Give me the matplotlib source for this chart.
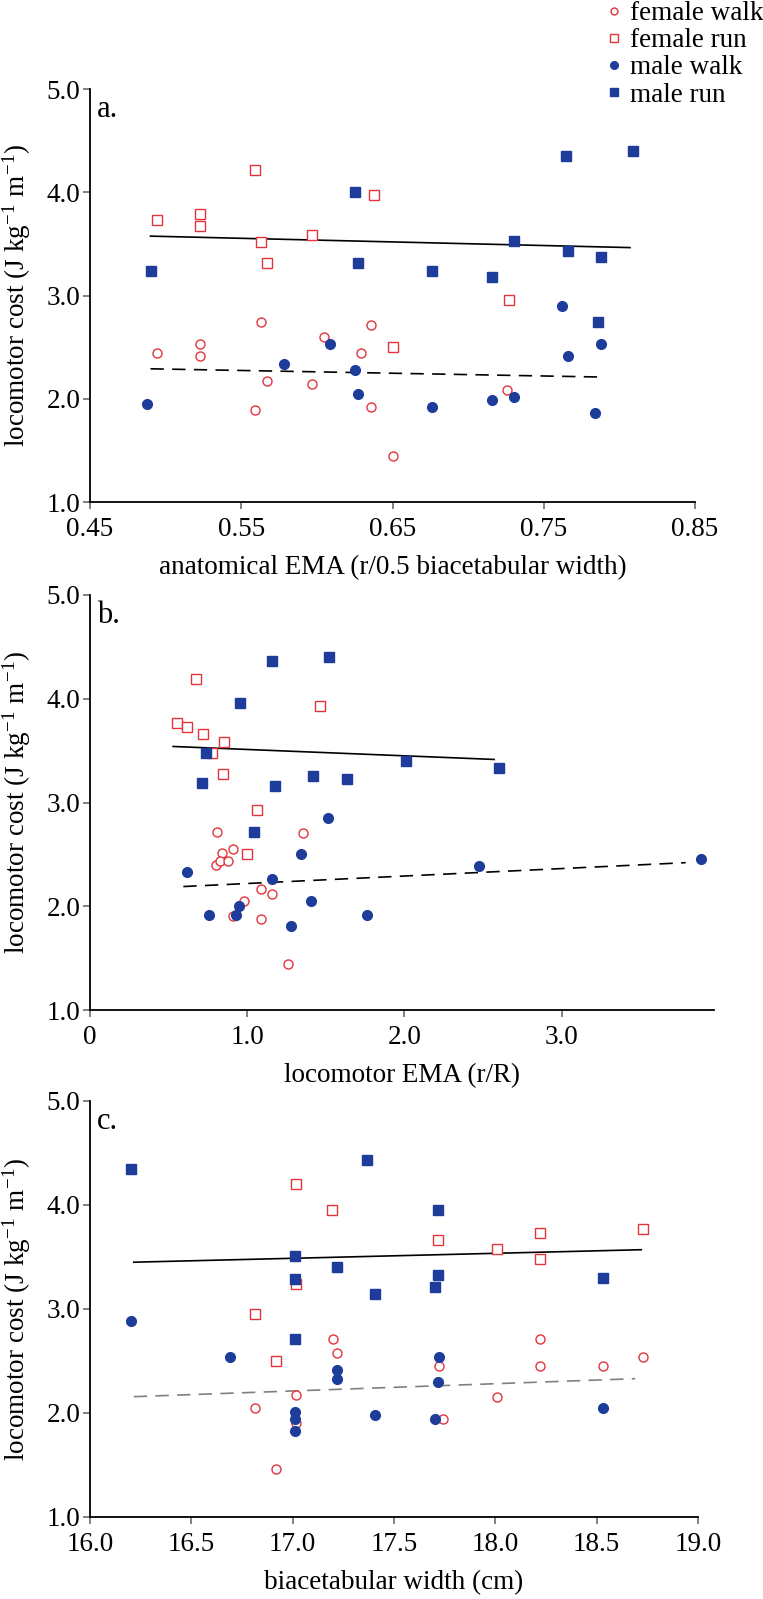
import matplotlib
matplotlib.use('Agg')
import matplotlib.pyplot as plt
from matplotlib.lines import Line2D

plt.rcParams['font.family'] = 'Liberation Serif'
plt.rcParams['mathtext.fontset'] = 'stix'
plt.rcParams['font.size'] = 19

red = '#e3343c'
blue = '#1e3d9b'

# ---- panel a: anatomical EMA ----
a_fw_x = [0.494, 0.523, 0.523, 0.563, 0.559, 0.567, 0.597, 0.605, 0.629, 0.636, 0.636, 0.6505, 0.7255]
a_fw_y = [2.44, 2.53, 2.41, 2.74, 1.89, 2.17, 2.14, 2.60, 2.44, 2.71, 1.92, 1.45, 2.08]
a_fr_x = [0.494, 0.523, 0.523, 0.559, 0.563, 0.567, 0.597, 0.638, 0.6505, 0.727]
a_fr_y = [3.73, 3.79, 3.67, 4.22, 3.52, 3.31, 3.59, 3.97, 2.50, 2.96]
a_mw_x = [0.488, 0.578, 0.609, 0.625, 0.627, 0.676, 0.716, 0.730, 0.762, 0.766, 0.788, 0.784]
a_mw_y = [1.95, 2.34, 2.53, 2.28, 2.05, 1.92, 1.985, 2.02, 2.90, 2.41, 2.53, 1.86]
a_mr_x = [0.490, 0.625, 0.627, 0.676, 0.716, 0.730, 0.765, 0.809, 0.766, 0.788, 0.786]
a_mr_y = [3.24, 4.00, 3.31, 3.24, 3.18, 3.53, 4.35, 4.40, 3.43, 3.37, 2.74]
a_run_fit_x = [0.490, 0.807]
a_run_fit_y = [3.575, 3.464]
a_walk_fit_x = [0.490, 0.789]
a_walk_fit_y = [2.29, 2.21]

# ---- panel b: locomotor EMA ----
b_fw_x = [0.807, 0.839, 0.909, 0.803, 0.828, 0.881, 1.352, 1.087, 1.157, 0.981, 0.907, 1.087, 1.257]
b_fw_y = [2.72, 2.51, 2.55, 2.40, 2.44, 2.44, 2.71, 2.17, 2.12, 2.05, 1.91, 1.88, 1.44]
b_fr_x = [0.552, 0.614, 0.675, 0.718, 0.779, 0.854, 0.843, 1.062, 1.002, 1.461]
b_fr_y = [3.77, 3.73, 4.19, 3.66, 3.48, 3.58, 3.27, 2.93, 2.50, 3.93]
b_mw_x = [0.616, 0.756, 0.951, 0.928, 1.157, 1.280, 1.344, 1.408, 1.514, 1.764, 2.478, 3.89]
b_mw_y = [2.33, 1.92, 2.00, 1.92, 2.26, 1.81, 2.50, 2.05, 2.85, 1.92, 2.39, 2.46]
b_mr_x = [0.737, 0.713, 0.957, 1.157, 1.522, 1.180, 1.416, 1.635, 1.043, 2.013, 2.599]
b_mr_y = [3.48, 3.19, 3.96, 4.36, 4.40, 3.16, 3.26, 3.23, 2.72, 3.40, 3.33]
b_run_fit_x = [0.529, 2.571]
b_run_fit_y = [3.54, 3.415]
b_walk_fit_x = [0.594, 3.79]
b_walk_fit_y = [2.19, 2.42]

# ---- panel c: biacetabular width ----
c_fw_x = [16.815, 16.92, 17.016, 17.016, 17.20, 17.22, 17.72, 17.74, 18.01, 18.22, 18.22, 18.53, 18.73]
c_fw_y = [2.05, 1.46, 2.17, 1.90, 2.71, 2.58, 2.45, 1.94, 2.15, 2.71, 2.45, 2.45, 2.54]
c_fr_x = [17.016, 17.016, 17.195, 16.815, 16.92, 17.716, 18.01, 18.22, 18.22, 18.73]
c_fr_y = [4.20, 3.24, 3.955, 2.95, 2.50, 3.66, 3.58, 3.73, 3.48, 3.77]
c_mw_x = [16.204, 16.69, 17.011, 17.011, 17.011, 17.22, 17.22, 17.406, 17.72, 17.716, 17.70, 18.53]
c_mw_y = [2.88, 2.54, 2.01, 1.94, 1.83, 2.41, 2.33, 1.98, 2.54, 2.30, 1.94, 2.05]
c_mr_x = [16.204, 17.011, 17.011, 17.011, 17.22, 17.367, 17.406, 17.716, 17.716, 17.70, 18.53]
c_mr_y = [4.35, 3.51, 3.29, 2.71, 3.40, 4.43, 3.14, 3.95, 3.33, 3.21, 3.30]
c_run_fit_x = [16.216, 18.72]
c_run_fit_y = [3.45, 3.57]
c_walk_fit_x = [16.216, 18.69]
c_walk_fit_y = [2.157, 2.33]

y_ticks = [1.0, 2.0, 3.0, 4.0, 5.0]
y_ticklabels = ['1.0', '2.0', '3.0', '4.0', '5.0']
a_xticks = [0.45, 0.55, 0.65, 0.75, 0.85]
a_xticklabels = ['0.45', '0.55', '0.65', '0.75', '0.85']
b_xticks = [0, 1.0, 2.0, 3.0]
b_xticklabels = ['0', '1.0', '2.0', '3.0']
c_xticks = [16.0, 16.5, 17.0, 17.5, 18.0, 18.5, 19.0]
c_xticklabels = ['16.0', '16.5', '17.0', '17.5', '18.0', '18.5', '19.0']

ylabel = r'locomotor cost (J kg$^{\mathregular{-1}}$ m$^{\mathregular{-1}}$)'

fig = plt.figure(figsize=(7.63, 15.99), dpi=100)
W, H = 763.0, 1599.0


def make_ax(left, right, top, bottom):
    return fig.add_axes([left / W, 1 - bottom / H, (right - left) / W, (bottom - top) / H])


def draw_panel(ax, fw, fr, mw, mr, runfit, walkfit, walk_color, xlim, xticks, xticklabels, xlabel, tag):
    ax.plot(runfit[0], runfit[1], color='black', lw=1.2, zorder=1)
    ax.plot(walkfit[0], walkfit[1], color=walk_color, lw=1.2, dashes=(8, 5), zorder=1)
    ax.plot(fw[0], fw[1], 'o', ms=6.5, mfc='white', mec=red, mew=1.0, ls='none', zorder=3)
    ax.plot(fr[0], fr[1], 's', ms=7, mfc='white', mec=red, mew=1.0, ls='none', zorder=3)
    ax.plot(mw[0], mw[1], 'o', ms=7, mfc=blue, mec=blue, ls='none', zorder=3)
    ax.plot(mr[0], mr[1], 's', ms=7, mfc=blue, mec=blue, ls='none', zorder=3)
    ax.set_xlim(*xlim)
    ax.set_ylim(1.0, 5.0)
    ax.set_xticks(xticks)
    ax.set_xticklabels(xticklabels)
    ax.set_yticks(y_ticks)
    ax.set_yticklabels(y_ticklabels)
    ax.spines['top'].set_visible(False)
    ax.spines['right'].set_visible(False)
    ax.spines['left'].set_linewidth(1.3)
    ax.spines['bottom'].set_linewidth(1.3)
    ax.tick_params(direction='out', length=5, width=1.3, color='#777777', labelsize=19.5, pad=2)
    ax.tick_params(axis='x', pad=6)
    ax.set_xlabel(xlabel, fontsize=19.5, labelpad=9)
    ax.set_ylabel(ylabel, fontsize=19.5, labelpad=10)
    ax.text(0.012, 0.985, tag, transform=ax.transAxes, fontsize=22, va='top', ha='left')


ax_a = make_ax(90, 695, 89, 502)
draw_panel(ax_a, (a_fw_x, a_fw_y), (a_fr_x, a_fr_y), (a_mw_x, a_mw_y), (a_mr_x, a_mr_y),
           (a_run_fit_x, a_run_fit_y), (a_walk_fit_x, a_walk_fit_y), 'black',
           (0.45, 0.85), a_xticks, a_xticklabels, 'anatomical EMA (r/0.5 biacetabular width)', 'a.')

ax_b = make_ax(90, 714, 595, 1010)
draw_panel(ax_b, (b_fw_x, b_fw_y), (b_fr_x, b_fr_y), (b_mw_x, b_mw_y), (b_mr_x, b_mr_y),
           (b_run_fit_x, b_run_fit_y), (b_walk_fit_x, b_walk_fit_y), 'black',
           (0, 3.97), b_xticks, b_xticklabels, 'locomotor EMA (r/R)', 'b.')

ax_c = make_ax(90, 698, 1101, 1517)
draw_panel(ax_c, (c_fw_x, c_fw_y), (c_fr_x, c_fr_y), (c_mw_x, c_mw_y), (c_mr_x, c_mr_y),
           (c_run_fit_x, c_run_fit_y), (c_walk_fit_x, c_walk_fit_y), '#808080',
           (16.0, 19.0), c_xticks, c_xticklabels, 'biacetabular width (cm)', 'c.')

handles = [
    Line2D([], [], marker='o', ls='none', ms=5, mfc='white', mec=red, mew=1.0),
    Line2D([], [], marker='s', ls='none', ms=5.5, mfc='white', mec=red, mew=1.0),
    Line2D([], [], marker='o', ls='none', ms=5.5, mfc=blue, mec=blue),
    Line2D([], [], marker='s', ls='none', ms=5.5, mfc=blue, mec=blue),
]
labels = ['female walk', 'female run', 'male walk', 'male run']
fig.legend(handles, labels, loc='upper left', bbox_to_anchor=(606 / W, 1 - 1 / H),
           frameon=False, fontsize=19.5, handlelength=0.6, handletextpad=0.3,
           labelspacing=0.08, borderpad=0, borderaxespad=0)

fig.savefig('out.png', dpi=100)
